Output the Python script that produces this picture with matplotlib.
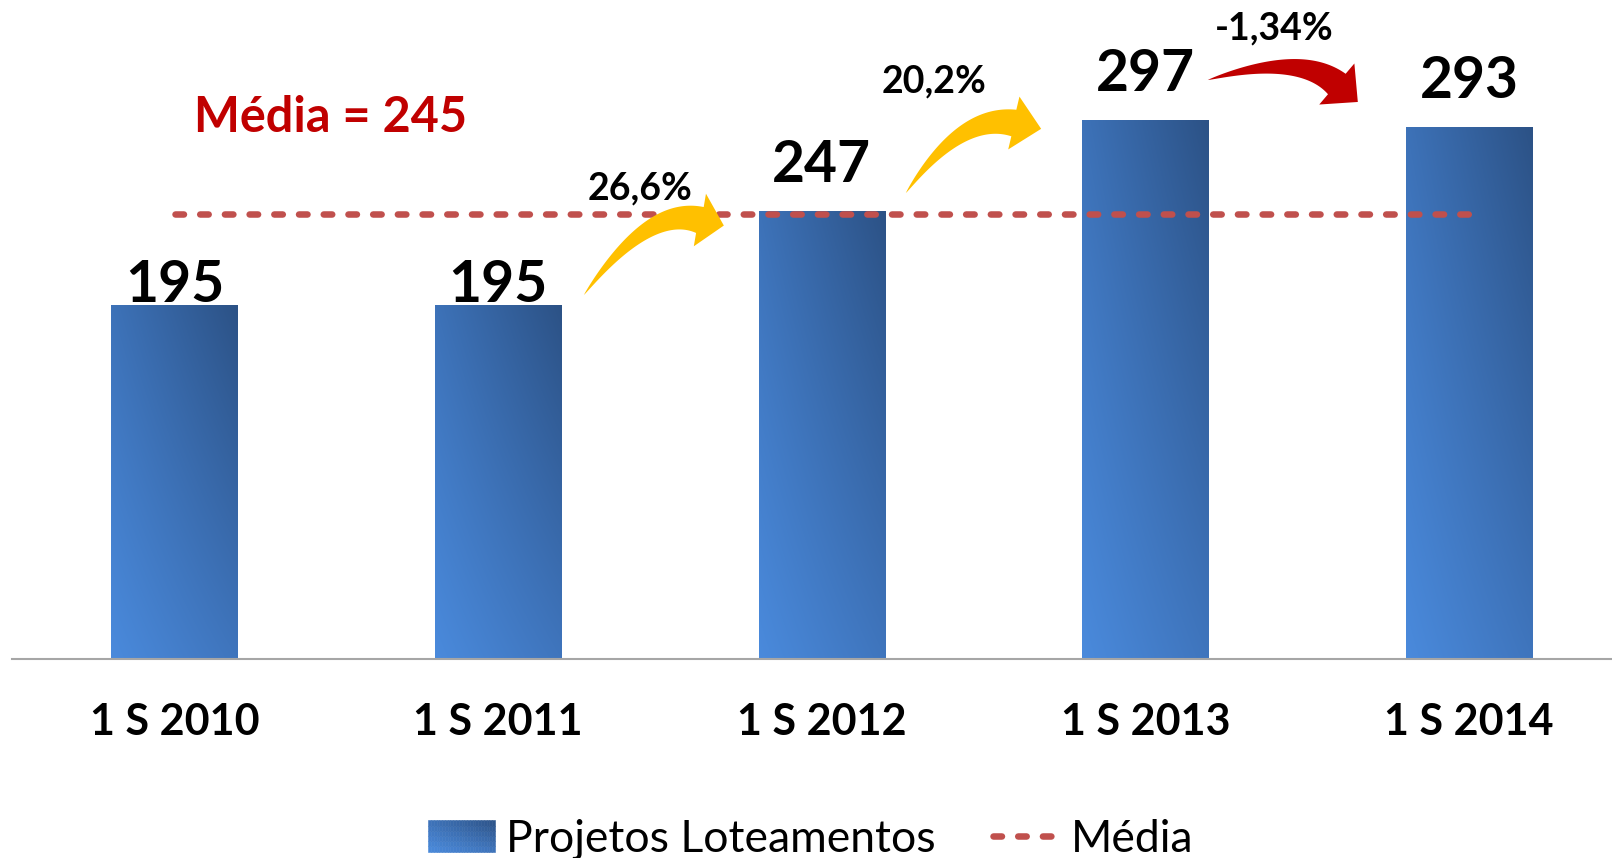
import numpy as np
import matplotlib
matplotlib.use("Agg")
import matplotlib.pyplot as plt
from matplotlib.patches import Rectangle, Polygon
from matplotlib.legend_handler import HandlerBase
from matplotlib.container import BarContainer
from matplotlib.colors import to_rgb

# ---------------- data ----------------
categories = ["1 S 2010", "1 S 2011", "1 S 2012", "1 S 2013", "1 S 2014"]
values = [195, 195, 247, 297, 293]
media = 245
media_label = "Média = 245"
growth_labels = ["26,6%", "20,2%", "-1,34%"]
series_name = "Projetos Loteamentos"
media_name = "Média"

# ---------------- styles ----------------
plt.rcParams["font.family"] = ["Lato", "DejaVu Sans"]
C_BL, C_BR = np.array(to_rgb("#4A8ADC")), np.array(to_rgb("#3F75BD"))
C_TL, C_TR = np.array(to_rgb("#3D72B8")), np.array(to_rgb("#2C5286"))


def grad_color(xf, yf):
    return (C_BL * (1 - xf) * (1 - yf) + C_BR * xf * (1 - yf)
            + C_TL * (1 - xf) * yf + C_TR * xf * yf)


def grad_image(nx=64, ny=128):
    xf = np.linspace(0, 1, nx)[None, :, None]
    yf = np.linspace(0, 1, ny)[:, None, None]
    return np.clip(grad_color(xf, yf), 0, 1)


class GradientHandler(HandlerBase):
    def create_artists(self, legend, orig_handle, xdescent, ydescent,
                       width, height, fontsize, trans):
        arts = []
        n, m = 24, 6
        for i in range(n):
            for j in range(m):
                c = grad_color((i + 0.5) / n, (j + 0.5) / m)
                arts.append(Rectangle((-xdescent + i * width / n, -ydescent + j * height / m),
                                      width / n, height / m, facecolor=c, edgecolor=c,
                                      lw=0.4, transform=trans))
        return arts


fig = plt.figure(figsize=(16.12, 8.58), dpi=100)
ax = fig.add_axes([12 / 1612, 199 / 858, 1600 / 1612, 659 / 858])
XLIM, YLIM = (-0.503, 4.442), (0, 363.2)
ax.set_xlim(*XLIM)
ax.set_ylim(*YLIM)

x = np.arange(len(values))
bars = ax.bar(x, values, width=0.391, color="none", edgecolor="none", zorder=2)
img = grad_image()
for b in bars:
    x0, y0, w, h = b.get_x(), b.get_y(), b.get_width(), b.get_height()
    im = ax.imshow(img, extent=[x0, x0 + w, y0, y0 + h], origin="lower",
                   aspect="auto", interpolation="bilinear", zorder=2)
    im.set_clip_path(b)

ax.set_xlim(*XLIM)
ax.set_ylim(*YLIM)

(line,) = ax.plot([x[0], x[-1]], [media, media], color="#C0504D", lw=4.7,
                  dashes=(1.3, 2.485), dash_capstyle="round", zorder=3)

# value labels
label_offsets = [2.5, 2.5, 21, 21, 21]
for xi, v, off in zip(x, values, label_offsets):
    ax.annotate(str(v), (xi, v), xytext=(0, off), textcoords="offset points",
                ha="center", va="baseline", fontsize=41, fontweight="bold",
                color="black", zorder=5)

# Média label
ax.text(0.483, 290.7, media_label, color="#C00000", fontsize=35,
        fontweight="bold", ha="center", va="baseline", zorder=5)

# growth labels
growth_pos = [(1.4376, 253.0), (2.3477, 312.2), (3.398, 341.2)]
for (gx, gy), lab in zip(growth_pos, growth_labels):
    ax.text(gx, gy, lab, fontsize=27, fontweight="bold", ha="center",
            va="baseline", zorder=5)


def curved_arrow(ax, p0, p1, p2, tip, shaft_w, head_w, color):
    T = ax.transData
    P0, P1, P2, TIP = [T.transform(p) for p in (p0, p1, p2, tip)]
    t = np.linspace(0, 1, 80)[:, None]
    B = (1 - t) ** 2 * P0 + 2 * (1 - t) * t * P1 + t ** 2 * P2
    dB = 2 * (1 - t) * (P1 - P0) + 2 * t * (P2 - P1)
    dB = dB / np.linalg.norm(dB, axis=1, keepdims=True)
    n = np.column_stack([-dB[:, 1], dB[:, 0]])
    w = (shaft_w / 2) * t ** 0.8
    left = B + n * w
    right = B - n * w
    d = (TIP - P2) / np.linalg.norm(TIP - P2)
    nh = np.array([-d[1], d[0]])
    hb1 = P2 + nh * head_w / 2
    hb2 = P2 - nh * head_w / 2
    verts = np.vstack([left, hb1[None], TIP[None], hb2[None], right[::-1]])
    verts = T.inverted().transform(verts)
    ax.add_patch(Polygon(verts, closed=True, facecolor=color, edgecolor="none",
                         zorder=4, clip_on=False))


arrows = [
    ((1.2645, 200.6), (1.4654, 250.2), (1.623, 241.95), (1.697, 238.9), "#FFC000"),
    ((2.2596, 256.8), (2.4296, 300.9), (2.5933, 295.4), (2.6777, 292.2), "#FFC000"),
    ((3.1928, 319.1), (3.4771, 334.5), (3.5915, 316.9), (3.6564, 307.0), "#C00000"),
]
for p0, p1, p2, tip, col in arrows:
    curved_arrow(ax, p0, p1, p2, tip, 27, 54, col)

# axes styling
for s in ("top", "left", "right"):
    ax.spines[s].set_visible(False)
ax.spines["bottom"].set_color("#A6A6A6")
ax.spines["bottom"].set_linewidth(1.5)
ax.set_yticks([])
ax.set_xticks(x)
ax.set_xticklabels(categories, fontsize=31, fontweight="bold")
ax.tick_params(axis="x", length=0, pad=31)

fig.legend([bars, line], [series_name, media_name],
           handler_map={BarContainer: GradientHandler()},
           loc="center", bbox_to_anchor=(811 / 1612, 19 / 858), ncol=2,
           frameon=False, fontsize=32, handlelength=1.5, handleheight=0.7,
           handletextpad=0.25, columnspacing=1.3, borderpad=0, borderaxespad=0)

fig.savefig("out.png", dpi=100)
